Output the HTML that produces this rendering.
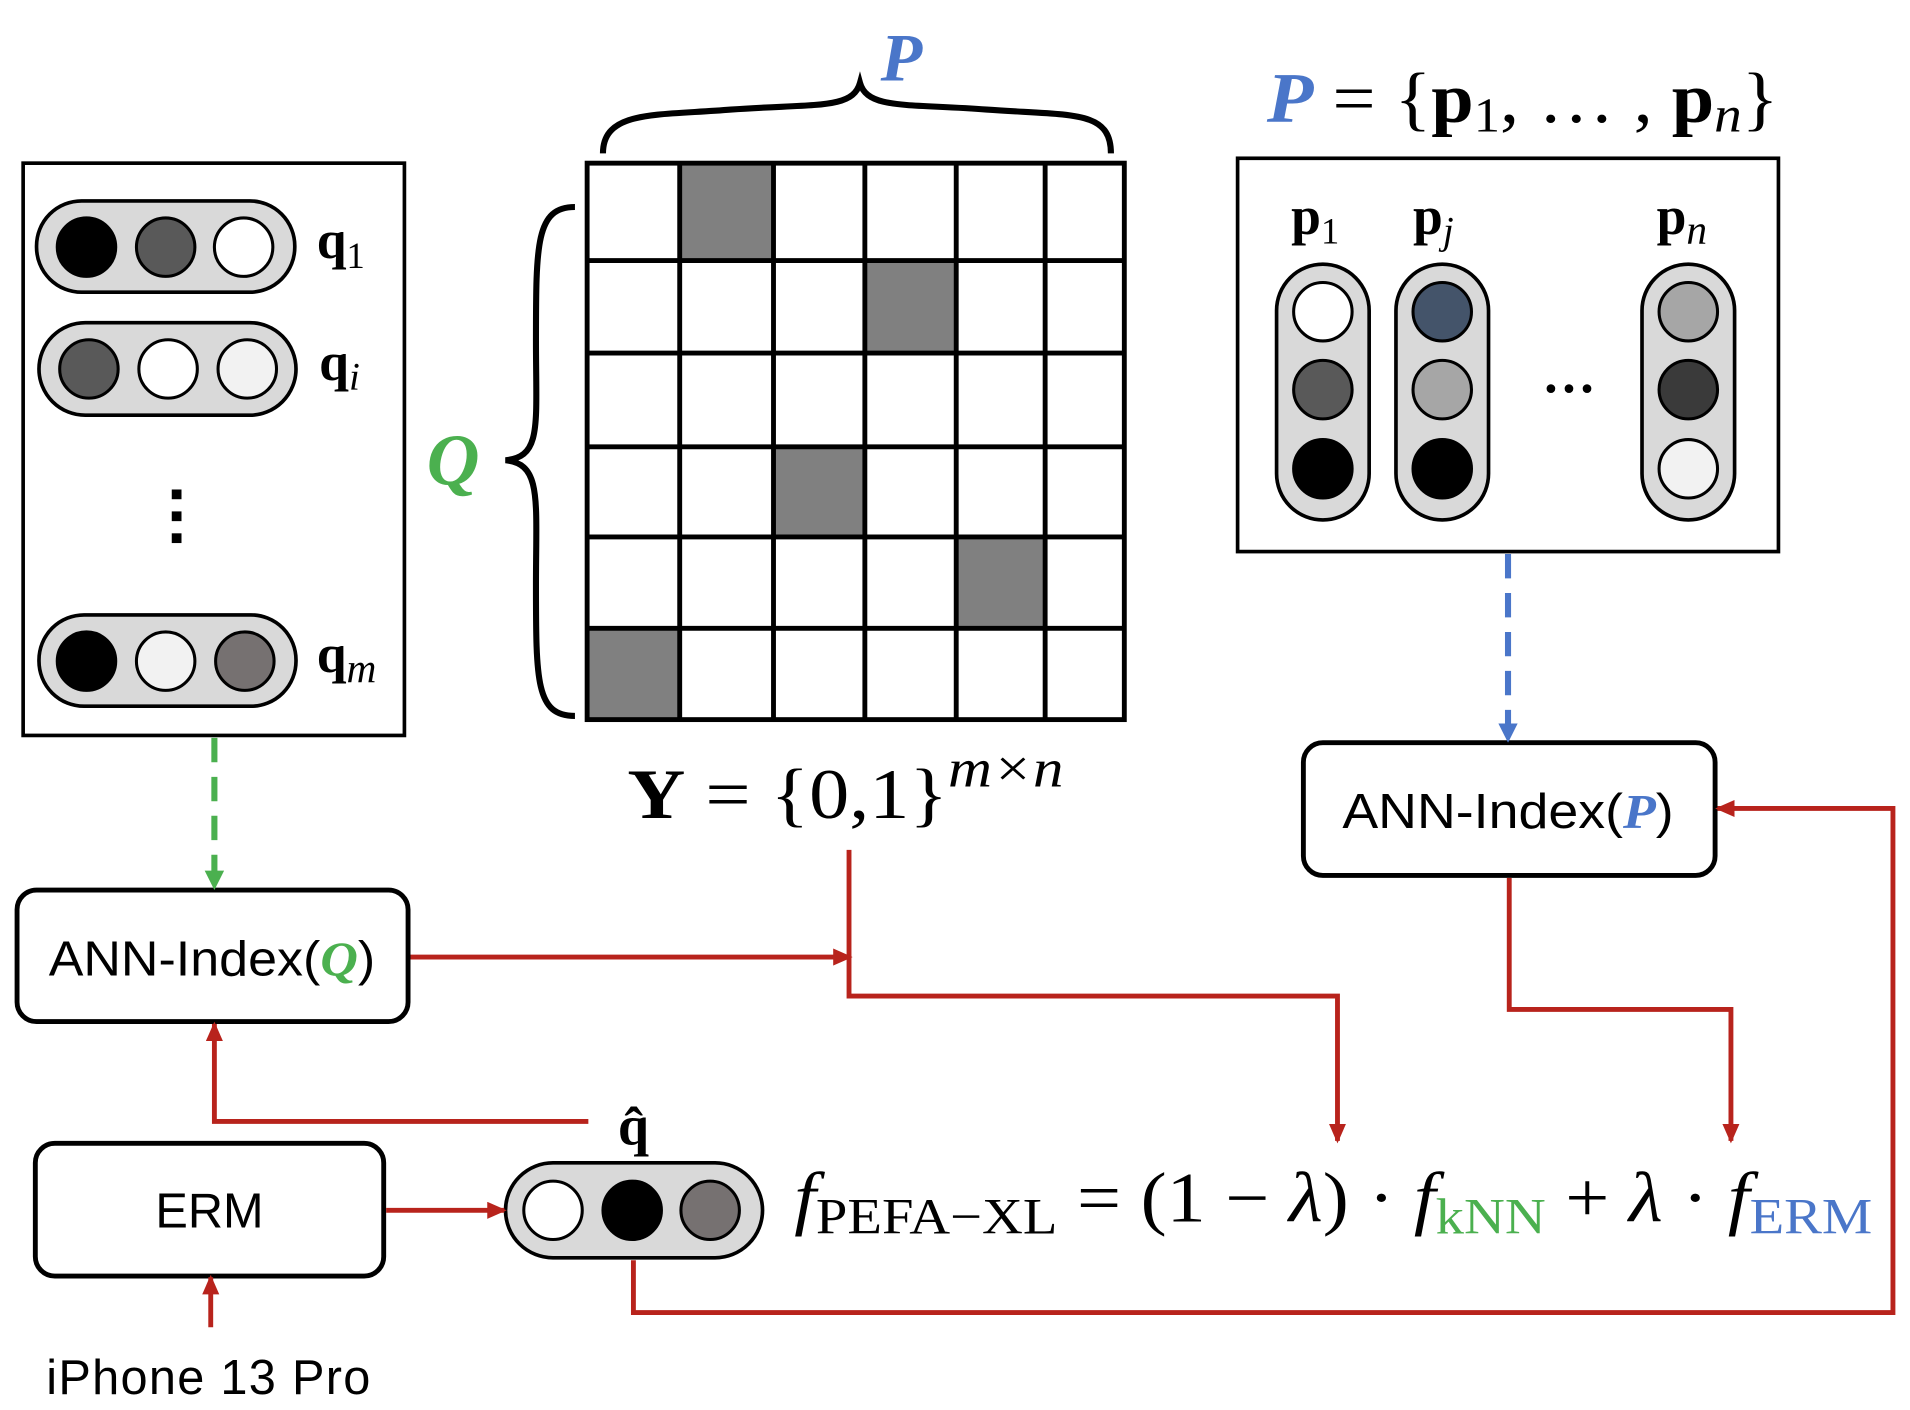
<!DOCTYPE html>
<html><head><style>html,body{margin:0;padding:0;background:#fff}svg{display:block}</style></head>
<body>
<svg width="1910" height="1410" viewBox="0 0 1568 1158" preserveAspectRatio="none" xmlns="http://www.w3.org/2000/svg">
<defs>
<marker id="ar" markerWidth="16" markerHeight="14" refX="14" refY="7" orient="auto" markerUnits="userSpaceOnUse"><path d="M0,0 L16,7 L0,14 z" fill="#b8231c"/></marker>
<marker id="ab" markerWidth="16" markerHeight="16" refX="8" refY="14" orient="0" markerUnits="userSpaceOnUse"><path d="M0,0 L16,0 L8,16 z" fill="#4a76c9"/></marker>
<marker id="ag" markerWidth="16" markerHeight="16" refX="8" refY="14" orient="0" markerUnits="userSpaceOnUse"><path d="M0,0 L16,0 L8,16 z" fill="#4bb04f"/></marker>
</defs>
<g font-family="Liberation Serif, serif">
<rect x="19" y="134" width="313" height="470" fill="#fff" stroke="#000" stroke-width="3"/>
<rect x="30" y="165" width="212" height="75" rx="37" fill="#d9d9d9" stroke="#000" stroke-width="3"/>
<circle cx="71" cy="203" r="24" fill="#000" stroke="#000" stroke-width="2.5"/>
<circle cx="136" cy="203" r="24" fill="#595959" stroke="#000" stroke-width="2.5"/>
<circle cx="200" cy="203" r="24" fill="#fff" stroke="#000" stroke-width="2.5"/>
<rect x="32" y="265" width="211" height="76" rx="38" fill="#d9d9d9" stroke="#000" stroke-width="3"/>
<circle cx="73" cy="303" r="24" fill="#595959" stroke="#000" stroke-width="2.5"/>
<circle cx="138" cy="303" r="24" fill="#fff" stroke="#000" stroke-width="2.5"/>
<circle cx="203" cy="303" r="24" fill="#f2f2f2" stroke="#000" stroke-width="2.5"/>
<rect x="32" y="505" width="211" height="75" rx="37" fill="#d9d9d9" stroke="#000" stroke-width="3"/>
<circle cx="71" cy="543" r="24" fill="#000" stroke="#000" stroke-width="2.5"/>
<circle cx="136" cy="543" r="24" fill="#f2f2f2" stroke="#000" stroke-width="2.5"/>
<circle cx="201" cy="543" r="24" fill="#767171" stroke="#000" stroke-width="2.5"/>
<rect x="141" y="402" width="8" height="8" fill="#000"/><rect x="141" y="420" width="8" height="8" fill="#000"/><rect x="141" y="438" width="8" height="8" fill="#000"/>
<text x="260" y="212" font-size="44" font-weight="bold">q<tspan font-size="30" font-weight="normal" dy="8">1</tspan></text>
<text x="262" y="312" font-size="44" font-weight="bold">q<tspan font-size="32" font-style="italic" font-weight="normal" dy="8">i</tspan></text>
<text x="260" y="552" font-size="44" font-weight="bold">q<tspan font-size="34" font-style="italic" font-weight="normal" dy="8">m</tspan></text>
<g fill="#808080" stroke="#000" stroke-width="3">
<rect x="558" y="134" width="77" height="80"/><rect x="710" y="214" width="75" height="76"/><rect x="635" y="367" width="75" height="74"/><rect x="785" y="441" width="73" height="75"/><rect x="482" y="516" width="76" height="75"/>
</g>
<g stroke="#000" stroke-width="4" fill="none">
<rect x="482" y="134" width="441" height="457"/>
<path d="M558 134V591M635 134V591M710 134V591M785 134V591M858 134V591M482 214H923M482 290H923M482 367H923M482 441H923M482 516H923"/>
</g>
<path d="M495 126 C495 90 540 95 600 90 C670 85 700 90 706 68 C712 90 745 85 810 90 C880 95 912 90 912 126" fill="none" stroke="#000" stroke-width="5"/>
<path d="M472 170 C440 170 440 200 440 280 C440 350 445 375 415 378 C445 381 440 410 440 480 C440 560 440 588 472 588" fill="none" stroke="#000" stroke-width="5"/>
<text x="740" y="66" font-size="56" font-style="italic" font-weight="bold" fill="#4a76c9" text-anchor="middle">P</text>
<text x="372" y="398" font-size="60" font-style="italic" font-weight="bold" fill="#4bb04f" text-anchor="middle">Q</text>
<text x="515" y="672" font-size="58" textLength="358" lengthAdjust="spacingAndGlyphs"><tspan font-weight="bold">Y</tspan> = {0,1}<tspan font-style="italic" font-size="44" dy="-26">m×n</tspan></text>
<text x="1040" y="100" font-size="58" textLength="420" lengthAdjust="spacingAndGlyphs"><tspan fill="#4a76c9" font-style="italic" font-weight="bold">P</tspan> = {<tspan font-weight="bold">p</tspan><tspan font-size="40" dy="8">1</tspan><tspan dy="-8">, … , </tspan><tspan font-weight="bold">p</tspan><tspan font-size="42" font-style="italic" dy="8">n</tspan><tspan dy="-8">}</tspan></text>
<rect x="1016" y="130" width="444" height="323" fill="#fff" stroke="#000" stroke-width="3"/>
<rect x="1048" y="217" width="76" height="210" rx="38" fill="#d9d9d9" stroke="#000" stroke-width="3"/>
<rect x="1146" y="217" width="76" height="210" rx="38" fill="#d9d9d9" stroke="#000" stroke-width="3"/>
<rect x="1348" y="217" width="76" height="210" rx="38" fill="#d9d9d9" stroke="#000" stroke-width="3"/>
<g stroke="#000" stroke-width="2.5">
<circle cx="1086" cy="256" r="24" fill="#fff"/><circle cx="1086" cy="320" r="24" fill="#595959"/><circle cx="1086" cy="385" r="24" fill="#000"/>
<circle cx="1184" cy="256" r="24" fill="#44546a"/><circle cx="1184" cy="320" r="24" fill="#a6a6a6"/><circle cx="1184" cy="385" r="24" fill="#000"/>
<circle cx="1386" cy="256" r="24" fill="#a6a6a6"/><circle cx="1386" cy="320" r="24" fill="#3a3a3a"/><circle cx="1386" cy="385" r="24" fill="#f2f2f2"/>
</g>
<text x="1060" y="192" font-size="44" font-weight="bold">p<tspan font-size="30" font-weight="normal" dy="8">1</tspan></text>
<text x="1160" y="192" font-size="44" font-weight="bold">p<tspan font-size="32" font-style="italic" font-weight="normal" dy="8">j</tspan></text>
<text x="1360" y="192" font-size="44" font-weight="bold">p<tspan font-size="34" font-style="italic" font-weight="normal" dy="8">n</tspan></text>
<text x="1288" y="322" font-size="44" font-weight="bold" text-anchor="middle">…</text>
<rect x="1070" y="610" width="338" height="109" rx="16" fill="#fff" stroke="#000" stroke-width="4"/>
<text x="1102" y="680" font-size="40" font-family="Liberation Sans, sans-serif" textLength="272" lengthAdjust="spacingAndGlyphs">ANN-Index(<tspan fill="#4a76c9" font-style="italic" font-weight="bold" font-family="Liberation Serif, serif">P</tspan>)</text>
<rect x="14" y="731" width="321" height="108" rx="16" fill="#fff" stroke="#000" stroke-width="4"/>
<text x="40" y="801" font-size="40" font-family="Liberation Sans, sans-serif" textLength="268" lengthAdjust="spacingAndGlyphs">ANN-Index(<tspan fill="#4bb04f" font-style="italic" font-weight="bold" font-family="Liberation Serif, serif">Q</tspan>)</text>
<rect x="29" y="939" width="286" height="109" rx="16" fill="#fff" stroke="#000" stroke-width="4"/>
<text x="172" y="1008" font-size="40" font-family="Liberation Sans, sans-serif" text-anchor="middle">ERM</text>
<text x="38" y="1145" font-size="40" font-family="Liberation Sans, sans-serif" textLength="266">iPhone 13 Pro</text>
<rect x="415" y="955" width="211" height="78" rx="39" fill="#d9d9d9" stroke="#000" stroke-width="3"/>
<circle cx="454" cy="994" r="24" fill="#fff" stroke="#000" stroke-width="2.5"/>
<circle cx="519" cy="994" r="24" fill="#000" stroke="#000" stroke-width="2.5"/>
<circle cx="583" cy="994" r="24" fill="#767171" stroke="#000" stroke-width="2.5"/>
<text x="520" y="940" font-size="46" font-weight="bold" text-anchor="middle">q̂</text>
<text x="652" y="1003" font-size="58" textLength="885" lengthAdjust="spacingAndGlyphs"><tspan font-style="italic">f</tspan><tspan font-size="42" dy="10">PEFA−XL</tspan><tspan dy="-10"> = (1 − </tspan><tspan font-style="italic">λ</tspan>) · <tspan font-style="italic">f</tspan><tspan font-size="42" dy="10" fill="#4bb04f">kNN</tspan><tspan dy="-10"> + </tspan><tspan font-style="italic">λ</tspan> · <tspan font-style="italic">f</tspan><tspan font-size="42" dy="10" fill="#4a76c9">ERM</tspan></text>
<line x1="1238" y1="455" x2="1238" y2="608" stroke="#4a76c9" stroke-width="5" stroke-dasharray="20,12" marker-end="url(#ab)"/>
<line x1="176" y1="606" x2="176" y2="729" stroke="#4bb04f" stroke-width="5" stroke-dasharray="20,12" marker-end="url(#ag)"/>
<g stroke="#b8231c" stroke-width="4" fill="none">
<path d="M337 786H698" marker-end="url(#ar)"/>
<path d="M697 698V818H1098V937" marker-end="url(#ar)"/>
<path d="M1239 721V829H1421V937" marker-end="url(#ar)"/>
<path d="M520 1035V1078H1554V664H1410" marker-end="url(#ar)"/>
<path d="M483 921H176V841" marker-end="url(#ar)"/>
<path d="M317 994H414" marker-end="url(#ar)"/>
<path d="M173 1090V1049" marker-end="url(#ar)"/>
</g>
</g>
</svg>
</body></html>
